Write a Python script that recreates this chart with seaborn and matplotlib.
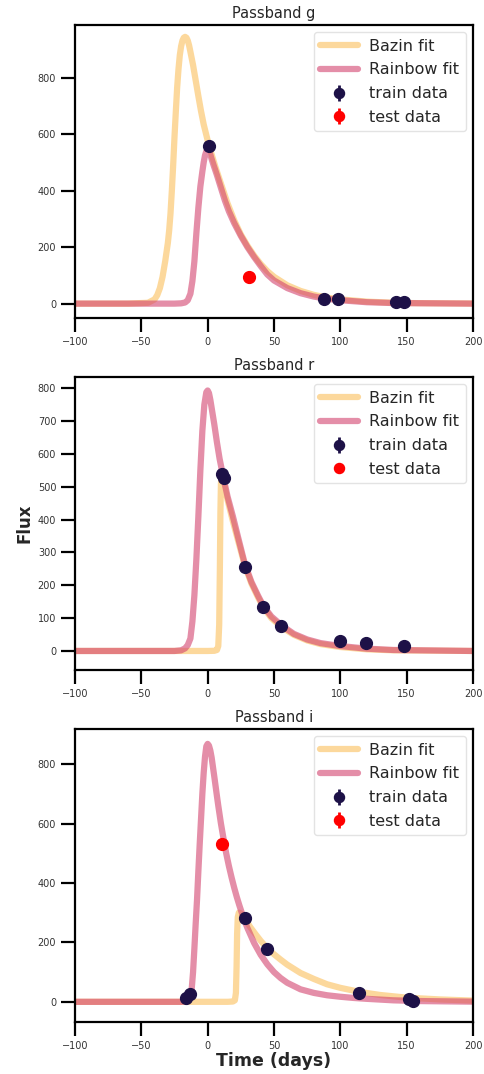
import numpy as np
import pandas as pd
import matplotlib
matplotlib.use("Agg")
import matplotlib.pyplot as plt
import seaborn as sns

sns.set_theme(style="ticks")
plt.rcParams['font.family'] = ['DejaVu Sans']

# ---------------- data ----------------
bands = ["g", "r", "i"]

# Passband g
bazin_g_t = [-100, -60, -45, -40, -38, -36, -34, -32, -30, -29, -28, -27, -26, -25, -24, -23, -22, -21, -20,
             -19, -18, -17, -16, -15, -14, -13, -11, -9, -7, -5, -3, 0, 3, 6, 10, 15, 20, 25, 30, 35, 40, 45,
             50, 60, 70, 80, 90, 100, 120, 140, 160, 200]
bazin_g_f = [0, 0, 3, 15, 30, 55, 95, 150, 215, 260, 320, 400, 490, 590, 680, 765, 830, 880, 912,
             932, 942, 945, 942, 932, 915, 892, 845, 790, 735, 682, 635, 578, 528, 482, 425, 355, 295, 245,
             205, 170, 140, 115, 95, 65, 45, 31, 21, 15, 7, 3, 1.5, 0.3]
rainbow_g_t = [-100, -25, -20, -17, -15, -13, -11.5, -10, -8.5, -7, -5.5, -4, -3, -2, -1, 0, 1, 2, 3, 4.5,
               7, 10, 13, 16, 20, 25, 30, 35, 40, 45, 50, 60, 70, 80, 90, 100, 120, 140, 200]
rainbow_g_f = [0, 0, 1, 4, 12, 35, 80, 150, 250, 340, 415, 468, 500, 525, 540, 545, 540, 528, 512, 490,
               455, 410, 365, 327, 285, 240, 200, 165, 133, 103, 82, 55, 37, 25, 17, 12, 5, 2, 0]
train_g_t = [1, 88, 98, 142, 148]
train_g_f = [558, 17, 18, 5, 5]
train_g_e = [6, 3, 3, 3, 3]
test_g_t = [31]
test_g_f = [93]
test_g_e = [4]

# Passband r
bazin_r_t = [-100, 0, 5, 7, 8, 8.7, 9.2, 9.6, 10, 10.5, 11, 12, 15, 19, 23, 28, 33, 38, 42, 48, 56, 65,
             75, 85, 100, 120, 140, 200]
bazin_r_f = [0, 0, 0.5, 3, 15, 80, 250, 420, 510, 530, 525, 515, 460, 395, 335, 260, 205, 163, 133, 100, 72, 49,
             32, 21, 12, 5, 2, 0]
rainbow_r_t = [-100, -25, -20, -17, -15, -13, -11.5, -10, -8.5, -7, -5.5, -4, -2.5, -1, 0, 1, 2, 3, 5, 7, 9,
               12, 15, 19, 23, 28, 33, 38, 42, 48, 56, 65, 75, 85, 100, 120, 140, 200]
rainbow_r_f = [0, 0, 2, 8, 18, 38, 90, 170, 280, 410, 550, 670, 750, 788, 793, 785, 765, 740, 690, 635, 585,
               525, 470, 410, 345, 265, 210, 168, 137, 105, 77, 52, 35, 24, 15, 7, 3, 0]
train_r_t = [11, 12.5, 28, 42, 55, 100, 119, 148]
train_r_f = [538, 528, 256, 135, 77, 30, 23, 15]
train_r_e = [6, 6, 4, 4, 3, 3, 3, 3]
test_r_t = []
test_r_f = []
test_r_e = []

# Passband i
bazin_i_t = [-100, 15, 19, 20.5, 21.3, 21.8, 22.2, 22.7, 23.5, 25, 28, 32, 36, 40, 45, 50, 55, 60, 70, 80,
             90, 100, 115, 130, 150, 175, 200]
bazin_i_f = [0, 0, 1, 5, 30, 120, 230, 285, 300, 298, 280, 252, 228, 205, 180, 160, 142, 125, 97, 77,
             59, 47, 33, 23, 14, 8, 4]
rainbow_i_t = [-100, -20, -16, -14.5, -13.5, -12, -11, -10, -9, -8, -7, -6, -5, -4, -3, -2, -1, 0, 1, 2, 3,
               4, 5, 6, 7, 8, 10, 12, 14, 16, 18, 20, 22, 24, 26, 28, 30, 35, 40, 45, 50, 55, 60, 70, 80,
               90, 100, 110, 120, 140, 160, 200]
rainbow_i_f = [0, 0, 2, 8, 25, 45, 100, 180, 265, 345, 440, 530, 615, 700, 770, 825, 860, 868, 862, 846, 822,
               790, 758, 725, 692, 660, 600, 548, 499, 457, 419, 384, 352, 323, 296, 271, 248, 198, 158, 126,
               100, 80, 64, 42, 30, 22, 17, 13, 10, 5, 2.5, 0.5]
train_i_t = [-16, -13, 28, 44.5, 114, 152, 155]
train_i_f = [12, 27, 281, 177, 30, 11, 2]
train_i_e = [4, 4, 5, 4, 3, 3, 3]
test_i_t = [10.6]
test_i_f = [531]
test_i_e = [6]

curves = {
    "g": (bazin_g_t, bazin_g_f, rainbow_g_t, rainbow_g_f, train_g_t, train_g_f, train_g_e, test_g_t, test_g_f, test_g_e),
    "r": (bazin_r_t, bazin_r_f, rainbow_r_t, rainbow_r_f, train_r_t, train_r_f, train_r_e, test_r_t, test_r_f, test_r_e),
    "i": (bazin_i_t, bazin_i_f, rainbow_i_t, rainbow_i_f, train_i_t, train_i_f, train_i_e, test_i_t, test_i_f, test_i_e),
}
ylims = {"g": (-51, 987), "r": (-58, 834), "i": (-68, 918)}
yticks = {"g": [0, 200, 400, 600, 800], "r": [0, 100, 200, 300, 400, 500, 600, 700, 800],
          "i": [0, 200, 400, 600, 800]}
xticks = [-100, -50, 0, 50, 100, 150, 200]

BAZIN_C = "#fbbf5a"
RAINBOW_C = "#d3436e"
TRAIN_C = "#1d1147"
TEST_C = "red"

fig, axes = plt.subplots(3, 1, figsize=(4.85, 10.74), dpi=100)
fig.subplots_adjust(left=0.1546, right=0.9753, top=0.9767, bottom=0.0484, hspace=0.2014)

for ax, band in zip(axes, bands):
    bt, bf, rt, rf, trt, trf, tre, tet, tef, tee = curves[band]
    sns.lineplot(x=bt, y=bf, ax=ax, color=BAZIN_C, linewidth=4.5, alpha=0.6, label="Bazin fit")
    sns.lineplot(x=rt, y=rf, ax=ax, color=RAINBOW_C, linewidth=4.5, alpha=0.6, label="Rainbow fit")
    ax.errorbar(trt, trf, yerr=tre, fmt="o", color=TRAIN_C, markersize=8.5, elinewidth=2,
                label="train data", zorder=5)
    ax.errorbar(tet, tef, yerr=tee if len(tee) else None, fmt="o", color=TEST_C, markersize=8.5,
                elinewidth=2, label="test data", zorder=5)
    ax.set_xlim(-100, 200)
    ax.set_ylim(*ylims[band])
    ax.set_xticks(xticks)
    ax.set_yticks(yticks[band])
    ax.set_title(f"Passband {band}", fontsize=10.5, pad=5)
    ax.tick_params(axis="both", labelsize=7, length=10, width=1.6, colors="black", labelcolor="#333333")
    for sp in ax.spines.values():
        sp.set_visible(True)
        sp.set_linewidth(1.6)
        sp.set_color("black")
    ax.set_xlabel("")
    ax.set_ylabel("")
    leg = ax.legend(loc="upper right", fontsize=11.5, handlelength=2.4, handletextpad=0.7,
                    frameon=True, fancybox=True, labelspacing=0.55, borderpad=0.4,
                    borderaxespad=0.45, markerscale=0.85)
    leg.get_frame().set_edgecolor("#dddddd")
    leg.get_frame().set_linewidth(1.0)

axes[1].set_ylabel("Flux", fontsize=12, fontweight="bold", labelpad=3)
axes[2].set_xlabel("Time (days)", fontsize=12.5, fontweight="bold", labelpad=1)

fig.savefig("out.png", dpi=100)
